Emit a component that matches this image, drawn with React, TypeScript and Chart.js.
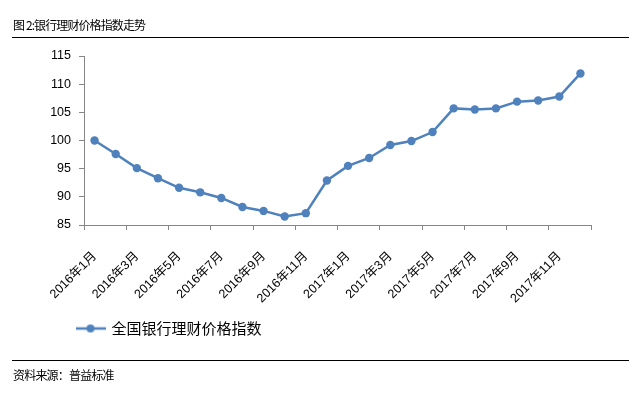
import React, { useEffect, useRef } from "react";
import { Chart, registerables } from "chart.js";

Chart.register(...registerables);

const categories: string[] = [
  "2016年1月", "2016年2月", "2016年3月", "2016年4月", "2016年5月", "2016年6月",
  "2016年7月", "2016年8月", "2016年9月", "2016年10月", "2016年11月", "2016年12月",
  "2017年1月", "2017年2月", "2017年3月", "2017年4月", "2017年5月", "2017年6月",
  "2017年7月", "2017年8月", "2017年9月", "2017年10月", "2017年11月", "2017年12月",
];

const indexValues: number[] = [
  100.0, 97.6, 95.1, 93.3, 91.6, 90.8, 89.8, 88.2, 87.5, 86.5, 87.1, 92.9,
  95.5, 96.9, 99.2, 99.9, 101.5, 105.7, 105.5, 105.7, 106.9, 107.1, 107.8, 111.9,
];

const seriesName = "全国银行理财价格指数";
const titleText = "图 2:银行理财价格指数走势";
const sourceText = "资料来源：普益标准";
const yMin = 85;
const yMax = 115;
const yStep = 5;

const BLUE = "#4F81BD";
const AXIS = "#868686";
const LATIN = "'Liberation Sans', 'Noto Sans CJK SC', sans-serif";
const CJK = "'Noto Sans CJK SC', sans-serif";

function makeLegendSymbol(): HTMLCanvasElement {
  const c = document.createElement("canvas");
  c.width = 30;
  c.height = 10;
  const ctx = c.getContext("2d")!;
  ctx.strokeStyle = BLUE;
  ctx.lineWidth = 2.5;
  ctx.beginPath();
  ctx.moveTo(0, 5);
  ctx.lineTo(30, 5);
  ctx.stroke();
  ctx.fillStyle = BLUE;
  ctx.beginPath();
  ctx.arc(15, 5, 4, 0, Math.PI * 2);
  ctx.fill();
  return c;
}

const legendShift = {
  id: "legendShift",
  afterLayout(chart: any) {
    if (chart.legend) {
      const w = chart.legend.width;
      chart.legend.left = 67;
      chart.legend.right = 67 + w;
    }
  },
};

export default function App() {
  const canvasRef = useRef<HTMLCanvasElement | null>(null);

  useEffect(() => {
    const prevMargin = document.body.style.margin;
    document.body.style.margin = "0";
    if (!canvasRef.current) return;
    const symbol = makeLegendSymbol();
    const chart = new Chart(canvasRef.current, {
      type: "line",
      data: {
        labels: categories,
        datasets: [
          {
            label: seriesName,
            data: indexValues,
            borderColor: BLUE,
            backgroundColor: BLUE,
            borderWidth: 2.5,
            pointRadius: 4.2,
            pointBackgroundColor: BLUE,
            pointBorderColor: BLUE,
            pointBorderWidth: 0,
            tension: 0,
          },
        ],
      },
      plugins: [legendShift],
      options: {
        animation: false,
        responsive: false,
        devicePixelRatio: 1,
        layout: { padding: { top: 56, left: 0, right: 38, bottom: 52 } },
        plugins: {
          legend: {
            display: true,
            position: "bottom",
            align: "start",
            labels: {
              usePointStyle: true,
              pointStyle: symbol as any,
              pointStyleWidth: 27,
              color: "#000",
              font: { family: CJK, size: 15 },
              padding: 10,
            },
          },
          tooltip: { enabled: false },
        },
        scales: {
          x: {
            type: "category",
            offset: true,
            afterFit: (scale: any) => {
              scale.height = 86;
            },
            border: { display: true, color: AXIS, width: 1 },
            grid: {
              display: true,
              offset: true,
              drawOnChartArea: false,
              drawTicks: true,
              tickLength: 5,
              color: (ctx: any) =>
                ctx.index === undefined || ctx.index % 2 === 0 ? AXIS : "rgba(0,0,0,0)",
            },
            ticks: {
              autoSkip: false,
              minRotation: 45,
              maxRotation: 45,
              padding: 19,
              color: "#000",
              font: { family: LATIN, size: 12.5 },
              callback: function (this: any, _v: any, index: number) {
                return index % 2 === 0 ? categories[index] : "";
              },
            },
          },
          y: {
            min: yMin,
            max: yMax,
            afterFit: (scale: any) => {
              scale.width = 84;
            },
            border: { display: true, color: AXIS, width: 1 },
            grid: {
              display: true,
              drawOnChartArea: false,
              drawTicks: true,
              tickLength: 5,
              color: AXIS,
            },
            ticks: {
              stepSize: yStep,
              padding: 8,
              color: "#000",
              font: { family: LATIN, size: 12.5 },
            },
          },
        },
      },
    });
    return () => {
      chart.destroy();
      document.body.style.margin = prevMargin;
    };
  }, []);

  return (
    <div style={{ position: "relative", width: 629, height: 398, background: "#fff", overflow: "hidden" }}>
      <canvas ref={canvasRef} width={629} height={398} style={{ position: "absolute", left: 0, top: 0, width: 629, height: 398 }} />
      <div
        style={{
          position: "absolute", left: 13, top: 16, fontFamily: CJK, fontSize: 12,
          lineHeight: "18px", color: "#000", letterSpacing: "-0.9px", whiteSpace: "nowrap",
        }}
      >
        {titleText}
      </div>
      <div style={{ position: "absolute", left: 12, right: 0, top: 37, height: 1, background: "#000" }} />
      <div style={{ position: "absolute", left: 12, right: 0, top: 360, height: 1, background: "#000" }} />
      <div
        style={{
          position: "absolute", left: 13, top: 366, fontFamily: CJK, fontSize: 12,
          lineHeight: "18px", color: "#000", letterSpacing: "-0.8px", whiteSpace: "nowrap",
        }}
      >
        {sourceText}
      </div>
    </div>
  );
}
